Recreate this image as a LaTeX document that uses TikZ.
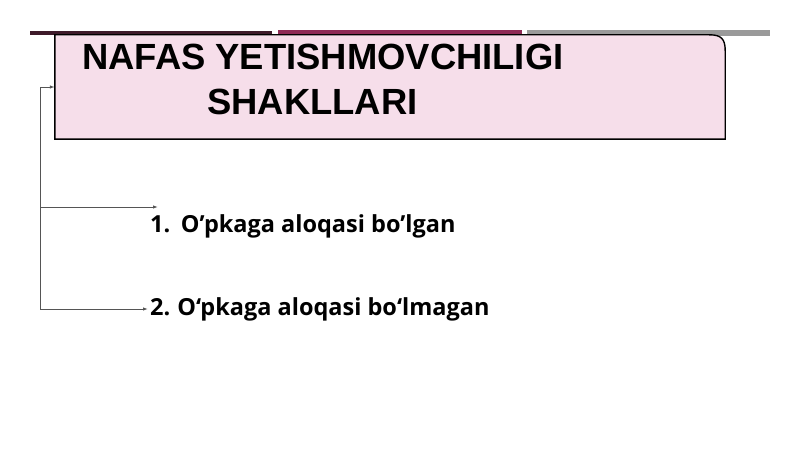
\documentclass[tikz,border=0pt]{standalone}
\usepackage{fontspec}
\setmainfont{Liberation Sans}
\newfontfamily\itemfont{Open Sans}
\usetikzlibrary{arrows.meta,calc,positioning}

\definecolor{barDark}{HTML}{3E1A2A}
\definecolor{barRed}{HTML}{8E2A55}
\definecolor{barGray}{HTML}{9A9A9A}
\definecolor{boxPink}{HTML}{F6DEEA}
\definecolor{lineGray}{HTML}{555555}

\tikzset{
  conn/.style={draw=lineGray, line width=0.9pt, -{Latex[length=5pt,width=3.5pt]}},
  item/.style={font=\itemfont\bfseries\fontsize{23.5}{28}\selectfont, inner sep=2pt, anchor=west},
  titletext/.style={font=\bfseries\fontsize{36.4}{42}\selectfont, inner sep=0pt, anchor=west}
}

\begin{document}
\begin{tikzpicture}[x=1pt, y=-1pt]

  \useasboundingbox (0,0) rectangle (800,449);

  % top bar
  \fill[barDark] (30,31) rectangle (272,35);
  \fill[barRed] (278,30) rectangle (522,34);
  \fill[barGray] (527,30) rectangle (770,36);

  % title box
  \node[minimum width=670pt, minimum height=104pt, inner sep=0pt] (box) at (390,87) {};
  \draw[line width=1.4pt, fill=boxPink] (box.south west) -- (box.north west)
    -- ($(box.north east)+(-16,0)$) .. controls ($(box.north east)+(-4,0)$) and ($(box.north east)+(0,4)$) .. ($(box.north east)+(0,16)$)
    -- (box.south east) -- cycle;

  \node[titletext] (title1) at (82,57) {NAFAS YETISHMOVCHILIGI};
  \node[titletext] (title2) at (207,102) {SHAKLLARI};

  % items
  \node[item] (item1) at (148,226) {1.\hspace{0.45em}O’pkaga aloqasi bo’lgan};
  \node[item] (item2) at (148,309) {2.\hspace{0.3em}O‘pkaga aloqasi bo‘lmagan};

  % connectors
  \coordinate (mid) at (40,207);
  \coordinate (bot) at (40,309);
  \coordinate (tip1) at (158,207);

  \draw[conn] (bot) |- (box.west);
  \draw[conn] (mid) -- (tip1);
  \draw[conn] (bot) -- (item2.west);

\end{tikzpicture}
\end{document}
